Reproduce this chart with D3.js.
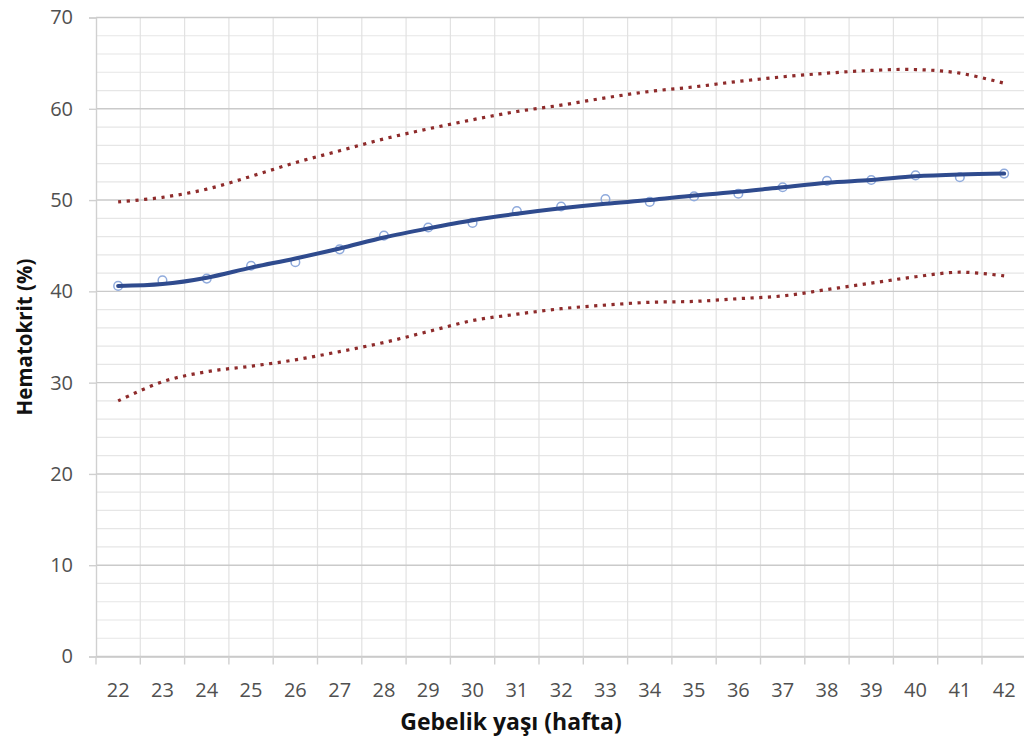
<!DOCTYPE html>
<html>
<head>
<meta charset="utf-8">
<script src="https://cdn.jsdelivr.net/npm/d3@7"></script>
<style>
  html, body { margin: 0; padding: 0; background: #fff; }
  svg { display: block; }
  text { font-family: "Open Sans", "Liberation Sans", sans-serif; }
</style>
</head>
<body>
<svg id="chart" width="1024" height="743"></svg>
<script>
// Gestational age (weeks)
const weeks = [22, 23, 24, 25, 26, 27, 28, 29, 30, 31, 32, 33, 34, 35, 36, 37, 38, 39, 40, 41, 42];

// Observed mean hematocrit per week (%)
const observed = [40.6, 41.2, 41.4, 42.8, 43.2, 44.6, 46.1, 47.0, 47.5, 48.8, 49.3, 50.1, 49.8,
                  50.4, 50.7, 51.4, 52.1, 52.2, 52.7, 52.5, 52.9];

// Smoothed reference curve
const fitted = [40.6, 40.8, 41.5, 42.6, 43.6, 44.7, 45.9, 46.9, 47.8, 48.5, 49.1, 49.6, 50.0,
                50.5, 50.9, 51.4, 51.9, 52.2, 52.6, 52.8, 52.9];

// Upper and lower limits
const upper = [49.8, 50.3, 51.2, 52.6, 54.1, 55.4, 56.7, 57.8, 58.8, 59.7, 60.4, 61.2, 61.9,
               62.4, 63.0, 63.5, 63.9, 64.2, 64.3, 63.9, 62.8];
const lower = [28.0, 30.1, 31.2, 31.8, 32.5, 33.4, 34.4, 35.6, 36.8, 37.5, 38.1, 38.5, 38.8,
               38.9, 39.2, 39.5, 40.2, 40.9, 41.6, 42.1, 41.7];

const yTicks = [0, 10, 20, 30, 40, 50, 60, 70];
const yMinor = d3.range(0, 71, 2).filter(v => v % 10 !== 0);

const xTitle = "Gebelik yaşı (hafta)";
const yTitle = "Hematokrit (%)";

const svg = d3.select("#chart");
const plotL = 96, plotR = 1026.3, plotT = 17.5, plotB = 656.5;

const x = d3.scaleBand().domain(weeks).range([plotL, plotR]).padding(0);
const y = d3.scaleLinear().domain([0, 70]).range([plotB, plotT]);
const cx = w => x(w) + x.bandwidth() / 2;

// minor horizontal grid
svg.append("g").selectAll("line").data(yMinor).join("line")
  .attr("x1", plotL).attr("x2", plotR)
  .attr("y1", d => y(d)).attr("y2", d => y(d))
  .attr("stroke", "#e6e6e6").attr("stroke-width", 1.2);

// vertical grid at category boundaries
const bounds = weeks.map(w => x(w)).concat([plotR]);
svg.append("g").selectAll("line").data(bounds.slice(1)).join("line")
  .attr("x1", d => d).attr("x2", d => d)
  .attr("y1", plotT).attr("y2", plotB)
  .attr("stroke", "#e2e2e2").attr("stroke-width", 1.2);

// major horizontal grid
svg.append("g").selectAll("line").data(yTicks).join("line")
  .attr("x1", plotL).attr("x2", plotR)
  .attr("y1", d => y(d)).attr("y2", d => y(d))
  .attr("stroke", "#cacaca").attr("stroke-width", 1.4);

// y axis
const yAxis = d3.axisLeft(y).tickValues(yTicks).tickSize(7).tickPadding(16).tickFormat(d3.format("d"));
const gy = svg.append("g").attr("transform", `translate(${plotL},0)`).call(yAxis);
gy.select(".domain").attr("stroke", "#d0d0d0").attr("stroke-width", 1.4);
gy.selectAll(".tick line").attr("stroke", "#d0d0d0").attr("stroke-width", 1.4);
gy.selectAll(".tick text").attr("font-size", 20).attr("fill", "#505050")
  .attr("font-family", "'Open Sans', sans-serif");

// x axis: labels centered in bands, tick marks on band boundaries
const xAxis = d3.axisBottom(x).tickSize(0).tickPadding(26);
const gx = svg.append("g").attr("transform", `translate(0,${plotB})`).call(xAxis);
gx.select(".domain").attr("stroke", "#cacaca").attr("stroke-width", 1.4);
gx.selectAll(".tick text").attr("font-size", 20).attr("fill", "#505050")
  .attr("font-family", "'Open Sans', sans-serif");
svg.append("g").selectAll("line").data(bounds).join("line")
  .attr("x1", d => d).attr("x2", d => d)
  .attr("y1", plotB).attr("y2", plotB + 8)
  .attr("stroke", "#d0d0d0").attr("stroke-width", 1.4);

const line = d3.line().curve(d3.curveCatmullRom.alpha(0)).x((d, i) => cx(weeks[i])).y(d => y(d));

// limit curves (dotted)
[upper, lower].forEach(series => {
  svg.append("path").datum(series)
    .attr("d", line)
    .attr("fill", "none")
    .attr("stroke", "#8e2b2b")
    .attr("stroke-width", 3.2)
    .attr("stroke-dasharray", "3.2 5.5");
});

// observed points
svg.append("g").selectAll("circle").data(observed).join("circle")
  .attr("cx", (d, i) => cx(weeks[i]))
  .attr("cy", d => y(d))
  .attr("r", 4.3)
  .attr("fill", "none")
  .attr("stroke", "#8faadc")
  .attr("stroke-width", 1.5);

// fitted curve
svg.append("path").datum(fitted)
  .attr("d", line)
  .attr("fill", "none")
  .attr("stroke", "#2f4b8e")
  .attr("stroke-width", 4)
  .attr("stroke-linecap", "round");

// axis titles
svg.append("text")
  .attr("x", 511).attr("y", 730)
  .attr("text-anchor", "middle")
  .attr("font-size", 23).attr("font-weight", "bold").attr("fill", "#111")
  .text(xTitle);

svg.append("text")
  .attr("transform", "translate(32,337) rotate(-90)")
  .attr("text-anchor", "middle")
  .attr("font-size", 20.5).attr("font-weight", "bold").attr("fill", "#111")
  .text(yTitle);
</script>
</body>
</html>
